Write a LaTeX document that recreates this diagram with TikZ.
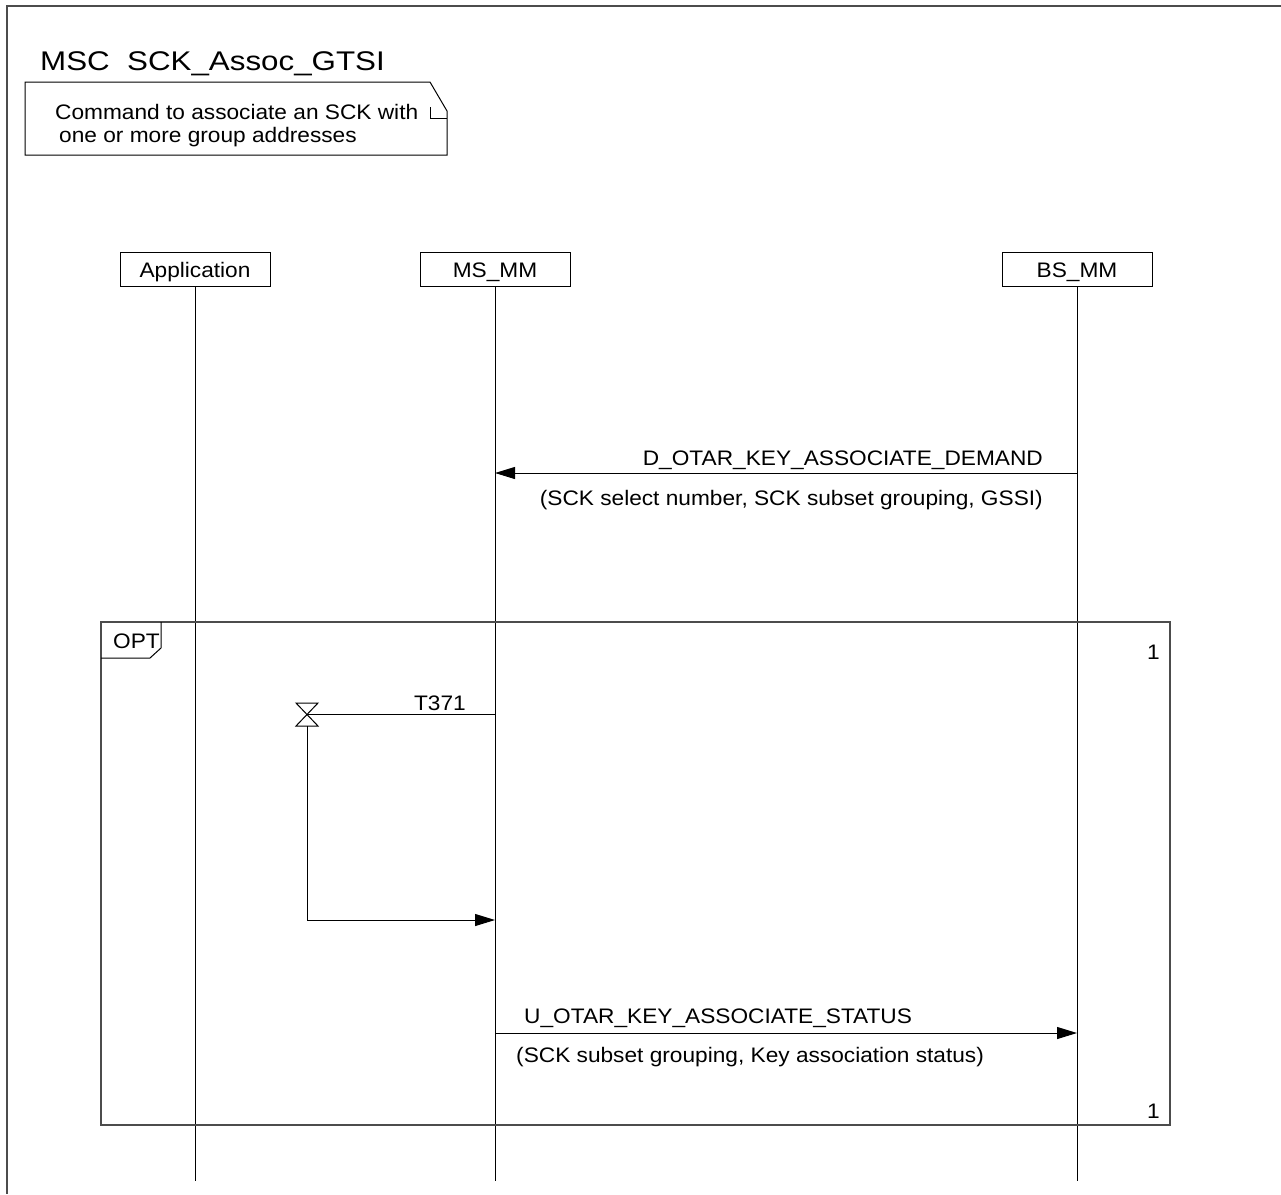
\documentclass[tikz,border=0pt]{standalone}
\usepackage{fontspec}
\setmainfont[FakeStretch=1.08]{Liberation Sans}
\newfontfamily\titlefont[FakeStretch=1.16]{Liberation Sans}
\usetikzlibrary{arrows.meta}
\begin{document}
\begin{tikzpicture}[x=1pt,y=-1pt,
  every node/.style={inner sep=0pt, font=\fontsize{21}{24}\selectfont},
  line/.style={draw=black, line width=1pt},
  frameline/.style={draw=black!70, line width=1.4pt},
  msg/.style={line, -{Triangle[length=20pt,width=12pt]}},
  lifebox/.style={draw, line width=1pt, minimum width=150pt, minimum height=34pt, text height=17pt, text depth=1pt, anchor=center}]
\useasboundingbox (0,0) rectangle (1281,1194);
\fill[white] (0,0) rectangle (1281,1194);
% outer frame
\draw[frameline] (1281,6) -- (7,6) -- (7,1194);
% title
\node[anchor=base west, font=\titlefont\fontsize{27}{30}\selectfont] (title) at (40,70) {MSC\ \ SCK\_Assoc\_GTSI};
% note
\draw[line] (25,82) -- (430,82) -- (447,111) -- (447,155) -- (25,155) -- cycle;
\draw[line] (430,107) -- (430,118) -- (447,118);
\node[anchor=base west] (note1) at (55,119) {Command to associate an SCK with};
\node[anchor=base west] (note2) at (59,142) {one or more group addresses};
% instances
\node[lifebox] (app) at (195,269) {Application};
\node[lifebox] (msmm) at (495,269) {MS\_MM};
\node[lifebox] (bsmm) at (1077,269) {BS\_MM};
\coordinate (append) at (195,1181);
\coordinate (msmmend) at (495,1181);
\coordinate (bsmmend) at (1077,1181);
\draw[line] (app.south) -- (append);
\draw[line] (msmm.south) -- (msmmend);
\draw[line] (bsmm.south) -- (bsmmend);
% message 1
\coordinate (d1) at (1077,473);
\coordinate (d2) at (495,473);
\draw[msg] (d1) -- (d2);
\node[anchor=base east] (dlab) at (1043,465) {D\_OTAR\_KEY\_ASSOCIATE\_DEMAND};
\node[anchor=base east] (dpar) at (1043,505) {(SCK select number, SCK subset grouping, GSSI)};
% OPT frame
\draw[frameline] (101,622) rectangle (1170,1125);
\draw[line] (161,622) -- (161,648) -- (150,658) -- (101,658);
\node[anchor=base west] (opt) at (113,648) {OPT};
\node[anchor=base east] (one1) at (1160,659) {1};
\node[anchor=base east] (one2) at (1160,1118) {1};
% timer
\coordinate (t0) at (495,714);
\coordinate (t1) at (307,714);
\draw[line] (t0) -- (t1);
\draw[line] (296,703) -- (318,703) -- (296,726) -- (318,726) -- cycle;
\node[anchor=base east] (tlab) at (466,710) {T371};
\coordinate (tb) at (307,726);
\coordinate (t2) at (307,920);
\coordinate (t3) at (495,920);
\draw[msg] (tb) -- (t2) -- (t3);
% message 2
\coordinate (u1) at (495,1033);
\coordinate (u2) at (1077,1033);
\draw[msg] (u1) -- (u2);
\node[anchor=base west] (ulab) at (524,1023) {U\_OTAR\_KEY\_ASSOCIATE\_STATUS};
\node[anchor=base west] (upar) at (516,1062) {(SCK subset grouping, Key association status)};
\end{tikzpicture}
\end{document}
